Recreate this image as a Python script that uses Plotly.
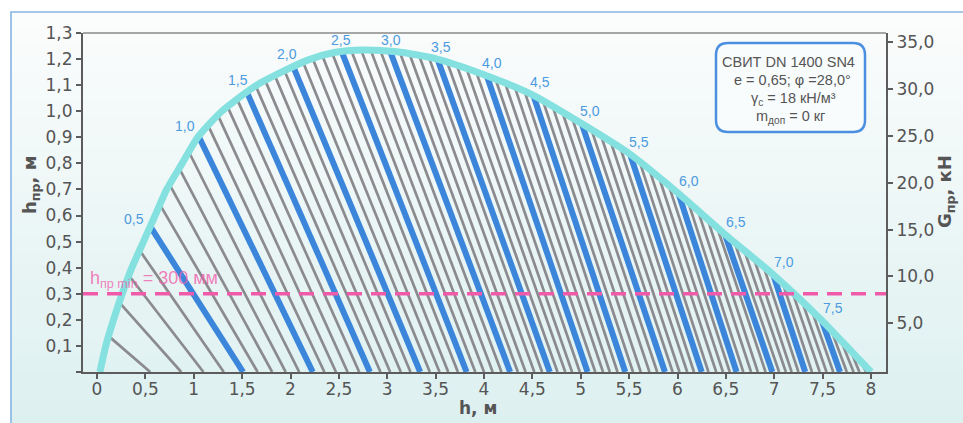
import numpy as np
import plotly.graph_objects as go

# ---------------- data ----------------
# envelope curve (cyan): h [m] vs h_pr [m]
ENV_H = [0.03, 0.09, 0.17, 0.26, 0.36, 0.48, 0.60, 0.72, 0.88, 1.04, 1.29, 1.65,
         2.17, 2.45, 2.75, 3.10, 3.50, 4.00, 4.50, 5.00, 5.50, 6.00, 6.50, 7.00,
         7.50, 7.80, 8.00]
ENV_HPR = [0.0, 0.10, 0.20, 0.30, 0.40, 0.50, 0.60, 0.70, 0.80, 0.90, 1.00, 1.10,
           1.195, 1.225, 1.235, 1.228, 1.202, 1.140, 1.063, 0.955, 0.838, 0.688, 0.525, 0.370,
           0.195, 0.078, 0.0]

# family of lines (step 0.1): start h on the envelope, end h on the axis (h_pr = 0)
LINE_START_H = [0.12, 0.23, 0.33, 0.44, 0.55, 0.65, 0.75, 0.85, 0.95, 1.05,
                1.15, 1.25, 1.35, 1.45, 1.55, 1.64, 1.74, 1.84, 1.94, 2.03,
                2.13, 2.23, 2.33, 2.43, 2.53, 2.63, 2.73, 2.83, 2.93, 3.03,
                3.13, 3.23, 3.33, 3.43, 3.52, 3.62, 3.72, 3.82, 3.92, 4.03,
                4.12, 4.22, 4.32, 4.42, 4.51, 4.61, 4.71, 4.81, 4.91, 5.01,
                5.11, 5.21, 5.31, 5.41, 5.51, 5.61, 5.71, 5.81, 5.91, 6.01,
                6.11, 6.21, 6.31, 6.41, 6.49, 6.59, 6.69, 6.79, 6.89, 6.99,
                7.09, 7.19, 7.29, 7.39, 7.49, 7.59, 7.69, 7.79, 7.89]
LINE_END_H = [0.55, 0.87, 1.10, 1.31, 1.51, 1.66, 1.81, 1.95, 2.09, 2.23,
              2.35, 2.47, 2.59, 2.71, 2.82, 2.93, 3.03, 3.14, 3.24, 3.34,
              3.44, 3.54, 3.63, 3.73, 3.82, 3.91, 4.00, 4.09, 4.18, 4.27,
              4.35, 4.43, 4.52, 4.60, 4.68, 4.76, 4.84, 4.91, 4.99, 5.07,
              5.15, 5.23, 5.30, 5.38, 5.46, 5.54, 5.62, 5.71, 5.79, 5.87,
              5.95, 6.02, 6.10, 6.17, 6.25, 6.32, 6.40, 6.47, 6.54, 6.61,
              6.68, 6.76, 6.83, 6.91, 6.98, 7.05, 7.12, 7.18, 7.25, 7.32,
              7.39, 7.47, 7.54, 7.61, 7.68, 7.75, 7.82, 7.88, 7.95]
BLUE_LABELS = ["0,5", "1,0", "1,5", "2,0", "2,5", "3,0", "3,5", "4,0",
               "4,5", "5,0", "5,5", "6,0", "6,5", "7,0", "7,5"]
HPR_MIN = 0.3

X_TICKS = [0, 0.5, 1, 1.5, 2, 2.5, 3, 3.5, 4, 4.5, 5, 5.5, 6, 6.5, 7, 7.5, 8]
X_TICKTEXT = ["0", "0,5", "1", "1,5", "2", "2,5", "3", "3,5", "4", "4,5",
              "5", "5,5", "6", "6,5", "7", "7,5", "8"]
Y_TICKS = [0, 0.1, 0.2, 0.3, 0.4, 0.5, 0.6, 0.7, 0.8, 0.9, 1.0, 1.1, 1.2, 1.3]
Y_TICKTEXT = ["", "0,1", "0,2", "0,3", "0,4", "0,5", "0,6", "0,7", "0,8", "0,9",
              "1,0", "1,1", "1,2", "1,3"]
Y2_TICKS = [5, 10, 15, 20, 25, 30, 35]
Y2_TICKTEXT = ["5,0", "10,0", "15,0", "20,0", "25,0", "30,0", "35,0"]

# ---------------- layout geometry ----------------
W, H = 963, 423
ML, MR, MT, MB = 83, 77, 33, 51
PW, PH = W - ML - MR, H - MT - MB
XR = [-0.145, 8.155]
YR = [0, 1.3]
Y2R = [-0.2, 36.0]


def pxx(px):
    return (px - ML) / PW


def pxy(py):
    return (H - MB - py) / PH


GRAY = "#8b8b8f"
BLUE = "#3b86db"
CYAN = "#84e1e0"
LBLUE = "#4c9be0"
PINK = "#ef5ba9"
AXC = "#5c5c5c"
TXT = "#555555"
TICKFONT = dict(family="DejaVu Sans", size=17, color=TXT)

# ---------------- traces ----------------
start_hpr = np.interp(LINE_START_H, ENV_H, ENV_HPR)
gx, gy, bx, by, blue_pts = [], [], [], [], []
for i, (s, e, sh) in enumerate(zip(LINE_START_H, LINE_END_H, start_hpr)):
    if (i + 1) % 5 == 0:
        bx += [s, e, None]
        by += [sh, 0, None]
        blue_pts.append((s, sh))
    else:
        gx += [s, e, None]
        gy += [sh, 0, None]

fig = go.Figure()
fig.add_trace(go.Scatter(x=gx, y=gy, mode="lines", line=dict(color=GRAY, width=2.7),
                         hoverinfo="skip"))
fig.add_trace(go.Scatter(x=bx, y=by, mode="lines", line=dict(color=BLUE, width=6),
                         hoverinfo="skip"))
fig.add_trace(go.Scatter(x=ENV_H, y=ENV_HPR, mode="lines",
                         line=dict(color=CYAN, width=7, shape="spline", smoothing=0.6),
                         hoverinfo="skip"))
fig.add_trace(go.Scatter(x=[0], y=[0], yaxis="y2", mode="markers",
                         marker=dict(opacity=0), hoverinfo="skip"))

# ---------------- shapes ----------------
shapes = []
# background gradient bands
top_c = np.array([252, 253, 253])
bot_c = np.array([221, 240, 240])
NB = 28
y_top, y_bot = 12, 430
for j in range(NB):
    ya = y_top + (y_bot - y_top) * j / NB
    yb = y_top + (y_bot - y_top) * (j + 1) / NB
    c = top_c + (bot_c - top_c) * (j + 0.5) / NB
    shapes.append(dict(type="rect", xref="paper", yref="paper", layer="below",
                       x0=pxx(11), x1=pxx(990), y0=pxy(yb + 0.5), y1=pxy(ya),
                       line=dict(width=0),
                       fillcolor="rgb(%d,%d,%d)" % tuple(int(v) for v in c)))
# frame
shapes.append(dict(type="rect", xref="paper", yref="paper", layer="below",
                   x0=pxx(11), x1=pxx(1010), y0=pxy(470), y1=pxy(12),
                   line=dict(color="#86b5e6", width=1.6)))
# top border of plot
shapes.append(dict(type="line", xref="paper", yref="paper", x0=0, x1=1, y0=1, y1=1,
                   line=dict(color="#8a8a8a", width=1.5)))
# h_pr min dashed line
shapes.append(dict(type="line", xref="x domain", yref="y", x0=0, x1=1,
                   y0=HPR_MIN, y1=HPR_MIN,
                   line=dict(color=PINK, width=3.5, dash="15px,9px")))
# rounded info box
bx0, bx1, by0, by1, r = 716, 865, 43, 132, 12
path = ("M {a},{b} L {c},{b} Q {d},{b} {d},{e} L {d},{f} Q {d},{g} {c},{g} "
        "L {a},{g} Q {h},{g} {h},{f} L {h},{e} Q {h},{b} {a},{b} Z").format(
    a=pxx(bx0 + r), b=pxy(by0), c=pxx(bx1 - r), d=pxx(bx1), e=pxy(by0 + r),
    f=pxy(by1 - r), g=pxy(by1), h=pxx(bx0))
shapes.append(dict(type="path", xref="paper", yref="paper", path=path,
                   line=dict(color="#4a8fe0", width=2.5), fillcolor="#f9fcfd"))

# ---------------- annotations ----------------
ann = []
sx = PW / (XR[1] - XR[0])
sy = PH / (YR[1] - YR[0])
for (s, sh), lab in zip(blue_pts, BLUE_LABELS):
    d = 0.05
    slope = (np.interp(s + d, ENV_H, ENV_HPR) - np.interp(s - d, ENV_H, ENV_HPR)) / (2 * d)
    tx, ty = sx, -slope * sy
    n = np.hypot(tx, ty)
    tx, ty = tx / n, ty / n
    nx, ny = ty, -tx
    dist = 11 + 8 * abs(nx)
    ann.append(dict(x=s, y=sh, xref="x", yref="y", text=lab, showarrow=False,
                    xanchor="center", yanchor="middle",
                    xshift=dist * nx, yshift=-dist * ny,
                    font=dict(family="Liberation Sans", size=14, color=LBLUE)))

ann.append(dict(x=pxx(88), y=HPR_MIN, xref="paper", yref="y", xanchor="left",
                yanchor="middle", yshift=14, showarrow=False,
                text="h<sub>пр min</sub> = 300 мм",
                font=dict(family="Liberation Sans", size=18, color="rgba(240,95,172,0.8)")))

# axis titles
ann.append(dict(x=pxx(31), y=pxy(185), xref="paper", yref="paper", textangle=-90,
                xanchor="center", yanchor="middle",
                showarrow=False, text="<b>h<sub>пр</sub>, м</b>",
                font=dict(family="DejaVu Sans", size=18, color=TXT)))
ann.append(dict(x=pxx(946), y=pxy(192), xref="paper", yref="paper", textangle=-90,
                xanchor="center", yanchor="middle",
                showarrow=False, text="<b>G<sub>пр</sub>, кН</b>",
                font=dict(family="DejaVu Sans", size=18, color=TXT)))
ann.append(dict(x=pxx(478), y=pxy(408), xref="paper", yref="paper",
                xanchor="center", yanchor="middle",
                showarrow=False, text="<b>h, м</b>",
                font=dict(family="DejaVu Sans", size=17, color=TXT)))

# info box text
BOXFONT = dict(family="Liberation Sans", size=14.5, color=TXT)
for txt, cx, cy in [("СВИТ DN 1400 SN4", 788, 62),
                    ("e = 0,65; φ =28,0°", 792, 80),
                    ("γ<sub>с</sub> = 18 кН/м³", 793, 99),
                    ("m<sub>доп</sub> = 0 кг", 790, 117)]:
    ann.append(dict(x=pxx(cx), y=pxy(cy), xref="paper", yref="paper", showarrow=False,
                    xanchor="center", yanchor="middle",
                    text=txt, font=BOXFONT))

axis_common = dict(showline=True, linecolor=AXC, linewidth=2, ticks="outside",
                   ticklen=5, tickwidth=1.5, tickcolor=AXC, showgrid=False,
                   zeroline=False, tickfont=TICKFONT)

fig.update_layout(
    width=W, height=H, margin=dict(l=ML, r=MR, t=MT, b=MB, pad=0),
    paper_bgcolor="white", plot_bgcolor="rgba(0,0,0,0)", showlegend=False,
    xaxis=dict(range=XR, tickvals=X_TICKS, ticktext=X_TICKTEXT,
               ticklabelstandoff=-4, **axis_common),
    yaxis=dict(range=YR, tickvals=Y_TICKS, ticktext=Y_TICKTEXT, **axis_common),
    yaxis2=dict(range=Y2R, overlaying="y", side="right", tickvals=Y2_TICKS,
                ticktext=Y2_TICKTEXT, **axis_common),
    shapes=shapes, annotations=ann,
)

fig.write_html("out.html")
